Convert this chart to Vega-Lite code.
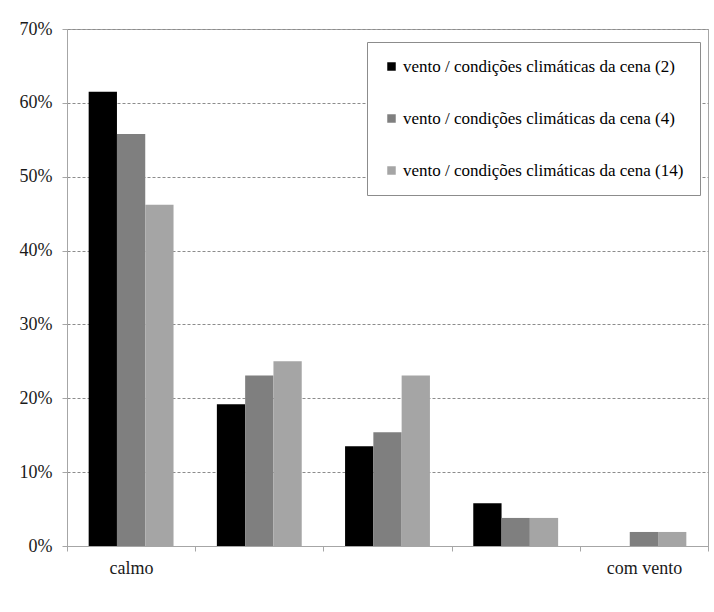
{
  "$schema": "https://vega.github.io/schema/vega-lite/v6.json",
  "width": 641,
  "height": 517,
  "autosize": {"type": "none"},
  "padding": {"left": 67, "top": 29, "right": 6, "bottom": 66},
  "background": "white",
  "config": {
    "font": "Liberation Serif",
    "view": {"stroke": "#a6a6a6", "strokeWidth": 1}
  },
  "data": {
    "values": [
      {"categoria": "calmo", "serie": "vento / condições climáticas da cena (2)", "valor": 0.615},
      {"categoria": "calmo", "serie": "vento / condições climáticas da cena (4)", "valor": 0.558},
      {"categoria": "calmo", "serie": "vento / condições climáticas da cena (14)", "valor": 0.462},
      {"categoria": "nível 2", "serie": "vento / condições climáticas da cena (2)", "valor": 0.192},
      {"categoria": "nível 2", "serie": "vento / condições climáticas da cena (4)", "valor": 0.231},
      {"categoria": "nível 2", "serie": "vento / condições climáticas da cena (14)", "valor": 0.25},
      {"categoria": "nível 3", "serie": "vento / condições climáticas da cena (2)", "valor": 0.135},
      {"categoria": "nível 3", "serie": "vento / condições climáticas da cena (4)", "valor": 0.154},
      {"categoria": "nível 3", "serie": "vento / condições climáticas da cena (14)", "valor": 0.231},
      {"categoria": "nível 4", "serie": "vento / condições climáticas da cena (2)", "valor": 0.058},
      {"categoria": "nível 4", "serie": "vento / condições climáticas da cena (4)", "valor": 0.038},
      {"categoria": "nível 4", "serie": "vento / condições climáticas da cena (14)", "valor": 0.038},
      {"categoria": "com vento", "serie": "vento / condições climáticas da cena (2)", "valor": 0.0},
      {"categoria": "com vento", "serie": "vento / condições climáticas da cena (4)", "valor": 0.019},
      {"categoria": "com vento", "serie": "vento / condições climáticas da cena (14)", "valor": 0.019}
    ]
  },
  "mark": {"type": "bar"},
  "encoding": {
    "x": {
      "field": "categoria",
      "type": "nominal",
      "sort": ["calmo", "nível 2", "nível 3", "nível 4", "com vento"],
      "scale": {"paddingInner": 0, "paddingOuter": 0},
      "axis": {
        "title": null,
        "labelAngle": 0,
        "labelExpr": "datum.value === 'calmo' || datum.value === 'com vento' ? datum.value : ''",
        "labelFont": "Liberation Serif",
        "labelFontSize": 18,
        "labelColor": "#1a1a1a",
        "labelPadding": 8,
        "tickBand": "extent",
        "tickSize": 5,
        "tickColor": "#a6a6a6",
        "domainColor": "#a6a6a6",
        "grid": false
      }
    },
    "xOffset": {
      "field": "serie",
      "sort": [
        "vento / condições climáticas da cena (2)",
        "vento / condições climáticas da cena (4)",
        "vento / condições climáticas da cena (14)"
      ],
      "scale": {"paddingInner": 0, "paddingOuter": 0.766}
    },
    "y": {
      "field": "valor",
      "type": "quantitative",
      "scale": {"domain": [0, 0.7], "nice": false},
      "axis": {
        "title": null,
        "values": [0, 0.1, 0.2, 0.3, 0.4, 0.5, 0.6, 0.7],
        "format": ".0%",
        "labelFont": "Liberation Serif",
        "labelFontSize": 18,
        "labelColor": "#1a1a1a",
        "labelPadding": 10,
        "tickSize": 5,
        "tickColor": "#a6a6a6",
        "domainColor": "#a6a6a6",
        "grid": true,
        "gridColor": "#8c8c8c",
        "gridDash": [3, 2],
        "gridWidth": 1
      }
    },
    "color": {
      "field": "serie",
      "type": "nominal",
      "scale": {
        "domain": [
          "vento / condições climáticas da cena (2)",
          "vento / condições climáticas da cena (4)",
          "vento / condições climáticas da cena (14)"
        ],
        "range": ["#000000", "#7f7f7f", "#a5a5a5"]
      },
      "legend": {
        "title": null,
        "orient": "none",
        "legendX": 300,
        "legendY": 13,
        "direction": "vertical",
        "fillColor": "white",
        "strokeColor": "#8c8c8c",
        "padding": 16,
        "rowPadding": 34,
        "symbolType": "square",
        "symbolSize": 72,
        "symbolStrokeWidth": 0,
        "labelOffset": 3,
        "labelFont": "Liberation Serif",
        "labelFontSize": 17,
        "labelColor": "#000000",
        "labelLimit": 400
      }
    }
  }
}
